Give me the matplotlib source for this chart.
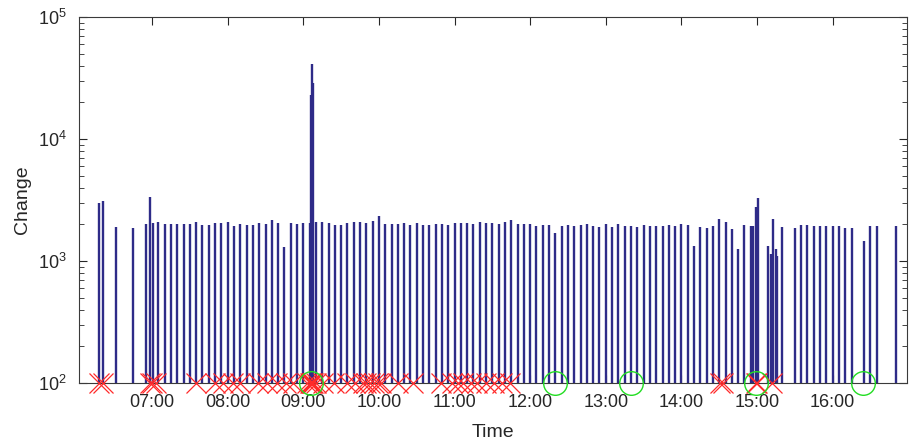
import numpy as np
import pandas as pd
import matplotlib
matplotlib.use("Agg")
import matplotlib.pyplot as plt
import matplotlib.dates as mdates
from matplotlib.ticker import LogLocator

plt.rcParams['font.family'] = ['Liberation Sans', 'DejaVu Sans']
plt.rcParams['mathtext.default'] = 'regular'

day = "2020-01-01 "

# Время и величина изменения для каждого столбика
bar_times = [
    "06:18", "06:21", "06:31", "06:45", "06:55", "06:58:30", "07:00:30",
    "07:05", "07:10", "07:15", "07:20", "07:25", "07:30", "07:35", "07:40",
    "07:45", "07:50", "07:55", "08:00", "08:05", "08:10", "08:15", "08:20",
    "08:25", "08:30", "08:35", "08:40", "08:45", "08:50", "08:55", "09:00",
    "09:05", "09:06", "09:07", "09:08", "09:10", "09:15", "09:20", "09:25",
    "09:30", "09:35", "09:40", "09:45", "09:50", "09:55", "10:00", "10:05",
    "10:10", "10:15", "10:20", "10:25", "10:30", "10:35", "10:40", "10:45",
    "10:50", "10:55", "11:00", "11:05", "11:10", "11:15", "11:20", "11:25",
    "11:30", "11:35", "11:40", "11:45", "11:50", "11:55", "12:00", "12:05",
    "12:10", "12:15", "12:20", "12:25", "12:30", "12:35", "12:40", "12:45",
    "12:50", "12:55", "13:00", "13:05", "13:10", "13:15", "13:20", "13:25",
    "13:30", "13:35", "13:40", "13:45", "13:50", "13:55", "14:00", "14:05",
    "14:10", "14:15", "14:20", "14:25", "14:30", "14:35", "14:40", "14:45",
    "14:50", "14:55", "14:56:30", "14:59", "15:00:30", "15:09", "15:11",
    "15:13", "15:15", "15:16", "15:20", "15:30", "15:35", "15:40", "15:45",
    "15:50", "15:55", "16:00", "16:05", "16:10", "16:15", "16:25", "16:30",
    "16:35", "16:50",
]
bar_values = [
    2970, 3100, 1910, 1860, 2000, 3370, 2040,
    2075, 2000, 2010, 2010, 2000, 2010, 2075, 1980,
    1960, 2040, 2040, 2100, 1950, 2020, 1980, 1960,
    2040, 2010, 2185, 2050, 1300, 2050, 2000, 2040,
    2060, 23000, 41000, 29000, 2085, 2085, 2040, 1980,
    1980, 2060, 2075, 2075, 2060, 2120, 2350, 2020,
    2000, 2010, 2040, 1980, 2060, 1960, 1990, 2010,
    2020, 1970, 2050, 2060, 2060, 2010, 2075, 2040,
    2040, 2000, 2075, 2185, 2000, 2000, 2000, 1950,
    1990, 1970, 1705, 1950, 1990, 1950, 1960, 2000,
    1940, 1910, 2010, 1900, 2010, 1930, 1930, 1910,
    1960, 1930, 1950, 1930, 1985, 1920, 2000, 1960,
    1335, 1900, 1855, 1935, 2200, 2100, 1840, 1255,
    1960, 1935, 1935, 2750, 3300, 1335, 1135,
    2210, 1255, 1100, 1910, 1870, 1985, 1960, 1930,
    1920, 1950, 1930, 1930, 1870, 1880, 1450, 1950,
    1920, 1920,
]

# Моменты событий (красные крестики) и отмеченные точки (зелёные круги)
cross_times = [
    "06:18", "06:21", "06:58", "07:00", "07:03", "07:35", "07:50", "07:56",
    "08:04", "08:10", "08:24", "08:31", "08:39", "08:46", "08:52", "09:03",
    "09:05", "09:06", "09:07", "09:08", "09:10", "09:16", "09:24", "09:35",
    "09:41", "09:47", "09:50", "09:53", "09:56", "09:59", "10:02", "10:15",
    "10:27", "10:49", "10:58", "11:03", "11:07", "11:13", "11:18", "11:25",
    "11:31", "11:38", "11:44", "14:31", "14:33", "14:59", "15:00", "15:12",
]
circle_times = ["09:06", "12:20", "13:20", "14:59", "16:24"]

base = 100


def to_time(lst):
    return pd.to_datetime([day + t for t in lst], format='mixed')


bars_t = to_time(bar_times)
cross_t = to_time(cross_times)
circle_t = to_time(circle_times)

fig = plt.figure(figsize=(9.1, 4.44), dpi=100)
ax = fig.add_axes([0.0868, 0.1374, 0.9099, 0.8243])

ax.vlines(bars_t, base, bar_values, color='#2e2b88', linewidth=1.7)
ax.plot(cross_t, [base] * len(cross_t), 'x', color='#ff2a2a', ms=14,
        mew=0.9, clip_on=False, zorder=3)
ax.plot(circle_t, [base] * len(circle_t), 'o', mfc='none', mec='#22dd22',
        ms=17, mew=1.0, clip_on=False, zorder=3)

ax.set_yscale('log')
ax.set_ylim(1e2, 1e5)
ax.set_xlim(pd.Timestamp(day + "06:02"), pd.Timestamp(day + "16:59"))

ax.xaxis.set_major_locator(mdates.HourLocator())
ax.xaxis.set_major_formatter(mdates.DateFormatter('%H:%M'))
ax.yaxis.set_minor_locator(LogLocator(base=10, subs=np.arange(2, 10)))

ax.tick_params(which='both', direction='in', top=True, right=True,
               labelsize=13, colors='#262626')
ax.tick_params(axis='x', pad=8)
ax.tick_params(axis='y', pad=9)
ax.tick_params(which='major', length=6)
ax.tick_params(which='minor', length=3.5)
for s in ax.spines.values():
    s.set_color('#3a3a3a')
    s.set_linewidth(0.8)

ax.set_xlabel("Time", fontsize=14, color='#262626', labelpad=9)
ax.set_ylabel("Change", fontsize=14, color='#262626', labelpad=5)

fig.savefig("out.png", dpi=100)
